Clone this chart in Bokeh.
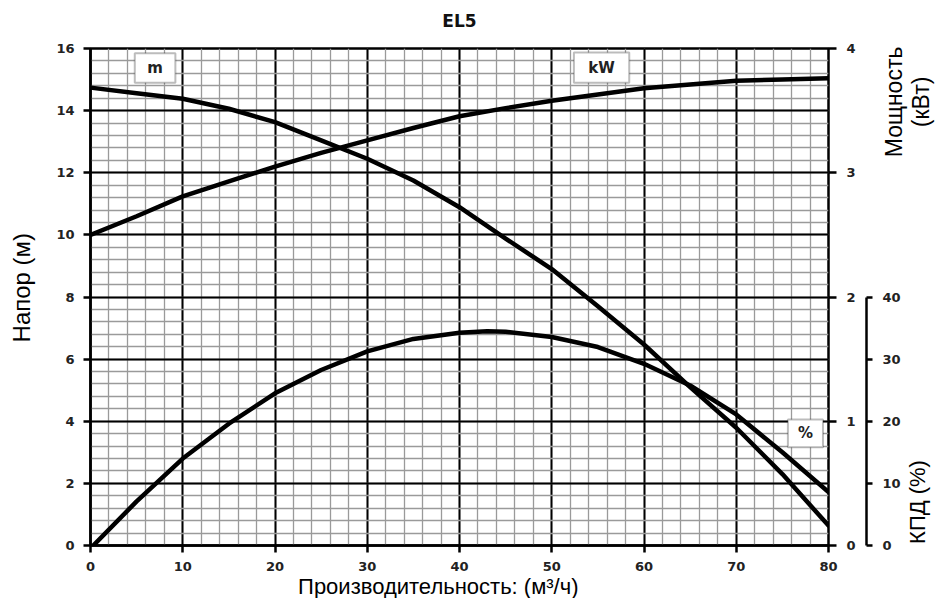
import math
from bokeh.plotting import figure
from bokeh.models import Range1d, LinearAxis, FixedTicker, BoxAnnotation, Label, ColumnDataSource
from bokeh.embed import file_html
from bokeh.resources import INLINE

# ---------------- data ----------------
title_text = "EL5"
flow = [0, 5, 10, 15, 20, 25, 30, 35, 40, 45, 50, 55, 60, 65, 70, 75, 80]
head_m = [14.74, 14.56, 14.38, 14.06, 13.63, 13.04, 12.45, 11.75, 10.89, 9.88, 8.9, 7.7, 6.47, 5.1, 3.79, 2.3, 0.64]
power_kw = [2.5, 2.65, 2.81, 2.93, 3.05, 3.16, 3.26, 3.36, 3.455, 3.52, 3.58, 3.63, 3.68, 3.71, 3.74, 3.75, 3.76]
eff_flow = [0.3, 5, 10, 15, 20, 25, 30, 35, 40, 43, 45, 50, 55, 60, 65, 70, 75, 80]
eff_pct = [0, 7.1, 14, 19.6, 24.5, 28.25, 31.25, 33.25, 34.25, 34.5, 34.4, 33.55, 31.95, 29.25, 25.75, 21.1, 15.0, 8.6]

x_ticks = [0, 10, 20, 30, 40, 50, 60, 70, 80]
x_minor = list(range(0, 81, 2))
head_ticks = [0, 2, 4, 6, 8, 10, 12, 14, 16]
head_minor = [round(i * 0.4, 1) for i in range(41)]
kw_ticks = [0, 1, 2, 3, 4]
eff_ticks = [0, 10, 20, 30, 40]

x_label = "Производительность: (м³/ч)"
head_label = "Напор (м)"
kw_label_1 = "Мощность"
kw_label_2 = "(кВт)"
eff_label = "КПД (%)"
box_texts = ["m", "kW", "%"]

TICK_FONT = "DejaVu Sans"
LABEL_FONT = "Liberation Sans"

p = figure(frame_width=738, frame_height=497, x_range=Range1d(0, 80), y_range=Range1d(0, 16),
           output_backend="svg", toolbar_location=None,
           min_border_left=90, min_border_right=102, min_border_top=48, min_border_bottom=53)
p.extra_y_ranges = {"kw": Range1d(0, 4), "eff": Range1d(0, 80)}

p.outline_line_color = "black"
p.outline_line_width = 2.5
p.background_fill_color = "white"
p.border_fill_color = "white"

def style_axis(ax, tick_out, standoff):
    ax.axis_line_color = "black"
    ax.axis_line_width = 2.5
    ax.major_tick_line_color = "black"
    ax.major_tick_line_width = 2.5
    ax.major_tick_in = 0
    ax.major_tick_out = tick_out
    ax.minor_tick_line_color = None
    ax.major_label_text_font = TICK_FONT
    ax.major_label_text_font_style = "bold"
    ax.major_label_text_font_size = "13px"
    ax.major_label_text_color = "#222222"
    ax.major_label_standoff = standoff

# bottom axis
xa = p.xaxis[0]
xa.ticker = FixedTicker(ticks=x_ticks, minor_ticks=x_minor)
style_axis(xa, 7, 9)

# left axis
ya = p.yaxis[0]
ya.ticker = FixedTicker(ticks=head_ticks, minor_ticks=head_minor)
style_axis(ya, 7, 9)

# right axes
kw_axis = LinearAxis(y_range_name="kw", ticker=FixedTicker(ticks=kw_ticks))
style_axis(kw_axis, 8, 10)
kw_axis.axis_line_color = None
kw_axis.axis_label = " "
kw_axis.axis_label_text_font_size = "4px"
kw_axis.axis_label_standoff = 0
p.add_layout(kw_axis, "right")

eff_axis = LinearAxis(y_range_name="eff", ticker=FixedTicker(ticks=eff_ticks), bounds=(0, 40))
style_axis(eff_axis, 6, 10)
p.add_layout(eff_axis, "right")

# grids
for g in p.xgrid + p.ygrid:
    g.grid_line_color = "black"
    g.grid_line_width = 2
    g.minor_grid_line_color = "#9a9a9a"
    g.minor_grid_line_width = 1.3
p.xgrid[0].ticker = FixedTicker(ticks=x_ticks, minor_ticks=x_minor)
p.ygrid[0].ticker = FixedTicker(ticks=head_ticks, minor_ticks=head_minor)

# curves
head_src = ColumnDataSource(dict(q=flow, h=head_m))
kw_src = ColumnDataSource(dict(q=flow, kw=power_kw))
eff_src = ColumnDataSource(dict(q=eff_flow, e=eff_pct))
p.line("q", "h", source=head_src, line_color="black", line_width=4.5, line_join="round", line_cap="round")
p.line("q", "kw", source=kw_src, y_range_name="kw", line_color="black", line_width=4.5, line_join="round", line_cap="round")
p.line("q", "e", source=eff_src, y_range_name="eff", line_color="black", line_width=4.5, line_join="round", line_cap="round")

# curve tag boxes
boxes = [(4.8, 9.2, 15.85, 14.9), (52.4, 58.4, 15.87, 14.9), (75.6, 79.4, 4.06, 3.16)]
for (l, r, t, b), txt in zip(boxes, box_texts):
    p.add_layout(BoxAnnotation(left=l, right=r, top=t, bottom=b, fill_color="white", fill_alpha=1,
                               line_color="#222222", line_width=2, level="overlay"))
    p.add_layout(Label(x=(l + r) / 2, y=(t + b) / 2, text=txt, text_align="center", text_baseline="middle",
                       text_font=TICK_FONT, text_font_style="bold", text_font_size="15px",
                       text_color="#222222", level="overlay"))

# titles placed in the side panels (so they are not clipped to the frame)
def side_text(x, y, txt, side, size, angle=0.0, font=LABEL_FONT, style="normal", color="black"):
    p.add_layout(Label(x=x, y=y, text=txt, angle=angle, text_align="center", text_baseline="middle",
                       text_font=font, text_font_style=style, text_font_size=size, text_color=color), side)

side_text(40.0, 16.87, title_text, "above", "17px", font=TICK_FONT, style="bold", color="#111111")
side_text(37.7, -1.33, x_label, "below", "22px")
side_text(-7.5, 8.3, head_label, "left", "24px", angle=math.pi / 2)
side_text(87.15, 14.28, kw_label_1, "right", "23px", angle=math.pi / 2)
side_text(90.05, 14.28, kw_label_2, "right", "23px", angle=math.pi / 2)
side_text(89.7, 1.4, eff_label, "right", "22px", angle=math.pi / 2)

open("out.html", "w").write(file_html(p, INLINE))
